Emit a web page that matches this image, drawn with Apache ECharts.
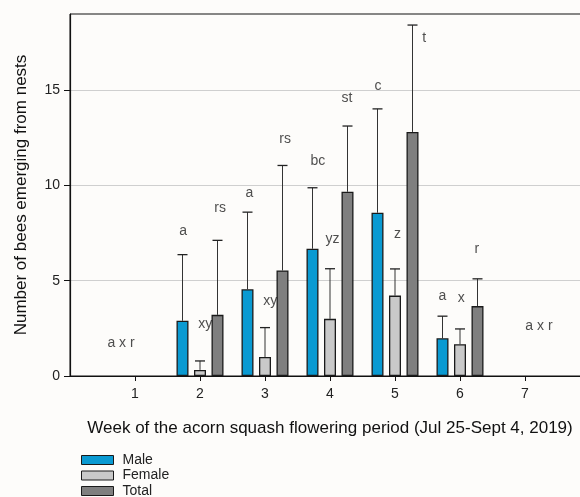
<!DOCTYPE html>
<html><head><meta charset="utf-8">
<script src="https://cdn.jsdelivr.net/npm/echarts@6/dist/echarts.min.js"></script>
<style>html,body{margin:0;padding:0;background:#fdfcfa}#c{width:580px;height:497px}</style>
</head><body><div id="c"></div>
<script>
// ---- data ----
var weeks = [2, 3, 4, 5, 6];
var maleMean = [2.9, 4.55, 6.68, 8.57, 1.98];
var maleErr = [6.37, 8.6, 9.88, 14.02, 3.14];
var femaleMean = [0.32, 1.0, 3.0, 4.22, 1.67];
var femaleErr = [0.79, 2.54, 5.63, 5.62, 2.47];
var totalMean = [3.21, 5.54, 9.67, 12.81, 3.67];
var totalErr = [7.12, 11.05, 13.12, 18.42, 5.1];
var seriesNames = ['Male', 'Female', 'Total'];
var xTicks = [1, 2, 3, 4, 5, 6, 7];
var yTicks = [0, 5, 10, 15];
// letter annotations: [week position, count position, text]
var letters = [
  [0.785, 1.75, 'a x r'], [7.215, 2.63, 'a x r'],
  [1.74, 7.58, 'a'], [2.08, 2.74, 'xy'], [2.31, 8.79, 'rs'],
  [2.76, 9.6, 'a'], [3.08, 3.91, 'xy'], [3.31, 12.42, 'rs'],
  [3.815, 11.3, 'bc'], [4.04, 7.16, 'yz'], [4.26, 14.56, 'st'],
  [4.74, 15.19, 'c'], [5.04, 7.42, 'z'], [5.45, 17.74, 't'],
  [5.73, 4.17, 'a'], [6.02, 4.07, 'x'], [6.26, 6.68, 'r']
];

// ---- styles ----
var colors = ['#0a9ad2', '#c9c9c9', '#7f7f7f'];
var BAR_W = 12, OFFSET = 17.5, CAP = 10;
var FONT = 'Liberation Sans, Arial, sans-serif';

var chart = echarts.init(document.getElementById('c'), null, {renderer: 'canvas'});

function barData(means) { return weeks.map(function (w, i) { return [w, means[i]]; }); }
function errData(means, errs) { return weeks.map(function (w, i) { return [w, means[i], errs[i]]; }); }

function errorSeries(name, means, errs, idx) {
  return {
    type: 'custom', name: name + ' err', z: 1,
    data: errData(means, errs),
    renderItem: function (params, api) {
      var dx = (idx - 1) * OFFSET;
      var base = api.coord([api.value(0), api.value(1)]);
      var top = api.coord([api.value(0), api.value(2)]);
      var x = base[0] + dx;
      return {type: 'group', children: [
        {type: 'line', shape: {x1: x, y1: base[1], x2: x, y2: top[1]}, style: {stroke: '#333', lineWidth: 1}},
        {type: 'line', shape: {x1: x - CAP / 2, y1: top[1], x2: x + CAP / 2, y2: top[1]}, style: {stroke: '#222', lineWidth: 1.3}}
      ]};
    },
    tooltip: {show: false}
  };
}

var series = [];
[[maleMean, maleErr], [femaleMean, femaleErr], [totalMean, totalErr]].forEach(function (p, i) {
  series.push({
    type: 'bar', name: seriesNames[i], data: barData(p[0]),
    barWidth: BAR_W, barGap: ((OFFSET - BAR_W) / BAR_W * 100) + '%', z: 3,
    itemStyle: {color: colors[i], borderColor: '#1a1a1a', borderWidth: 1.3}
  });
});
series.push(errorSeries('Male', maleMean, maleErr, 0));
series.push(errorSeries('Female', femaleMean, femaleErr, 1));
series.push(errorSeries('Total', totalMean, totalErr, 2));
series.push({
  type: 'scatter', symbolSize: 0, data: letters, z: 5,
  label: {show: true, position: 'inside', formatter: function (p) { return p.data[2]; },
    color: '#222', fontSize: 14, fontFamily: FONT}
});

chart.setOption({
  backgroundColor: '#fdfcfa',
  animation: false,
  textStyle: {fontFamily: FONT},
  grid: {left: 70, right: -10, top: 14, bottom: 121, containLabel: false, outerBoundsMode: 'none',
    show: true, borderColor: '#111', borderWidth: 1, backgroundColor: 'transparent'},
  legend: {
    data: seriesNames, orient: 'vertical', left: 81, top: 452.5, height: 120, padding: 0,
    itemWidth: 32, itemHeight: 9, itemGap: 0.5, icon: 'rect',
    itemStyle: {borderColor: '#1a1a1a', borderWidth: 1},
    textStyle: {fontSize: 14, color: '#222', fontFamily: FONT, lineHeight: 15, padding: [0, 0, 0, 4]}
  },
  xAxis: {
    type: 'value', min: 0, max: 8, interval: 1,
    name: 'Week of the acorn squash flowering period (Jul 25-Sept 4, 2019)',
    nameLocation: 'middle', nameGap: 44,
    nameTextStyle: {fontSize: 17, color: '#111', fontFamily: FONT},
    axisLine: {show: true, onZero: false, lineStyle: {color: '#111', width: 1.2}},
    axisTick: {show: true, length: 5, customValues: xTicks, lineStyle: {color: '#111'}},
    axisLabel: {fontSize: 14, color: '#222', margin: 11, fontFamily: FONT, customValues: xTicks},
    splitLine: {show: false}
  },
  yAxis: {
    type: 'value', min: 0, max: 19, interval: 5,
    name: 'Number of bees emerging from nests',
    nameLocation: 'middle', nameGap: 40,
    nameTextStyle: {fontSize: 17, color: '#111', fontFamily: FONT},
    axisLine: {show: true, lineStyle: {color: '#111', width: 1.2}},
    axisTick: {show: true, length: 6, customValues: yTicks, lineStyle: {color: '#111'}},
    axisLabel: {fontSize: 14, color: '#222', margin: 10, fontFamily: FONT, customValues: yTicks},
    splitLine: {show: true, lineStyle: {color: '#cfcfcf', width: 1}}
  },
  series: series
});
</script></body></html>
